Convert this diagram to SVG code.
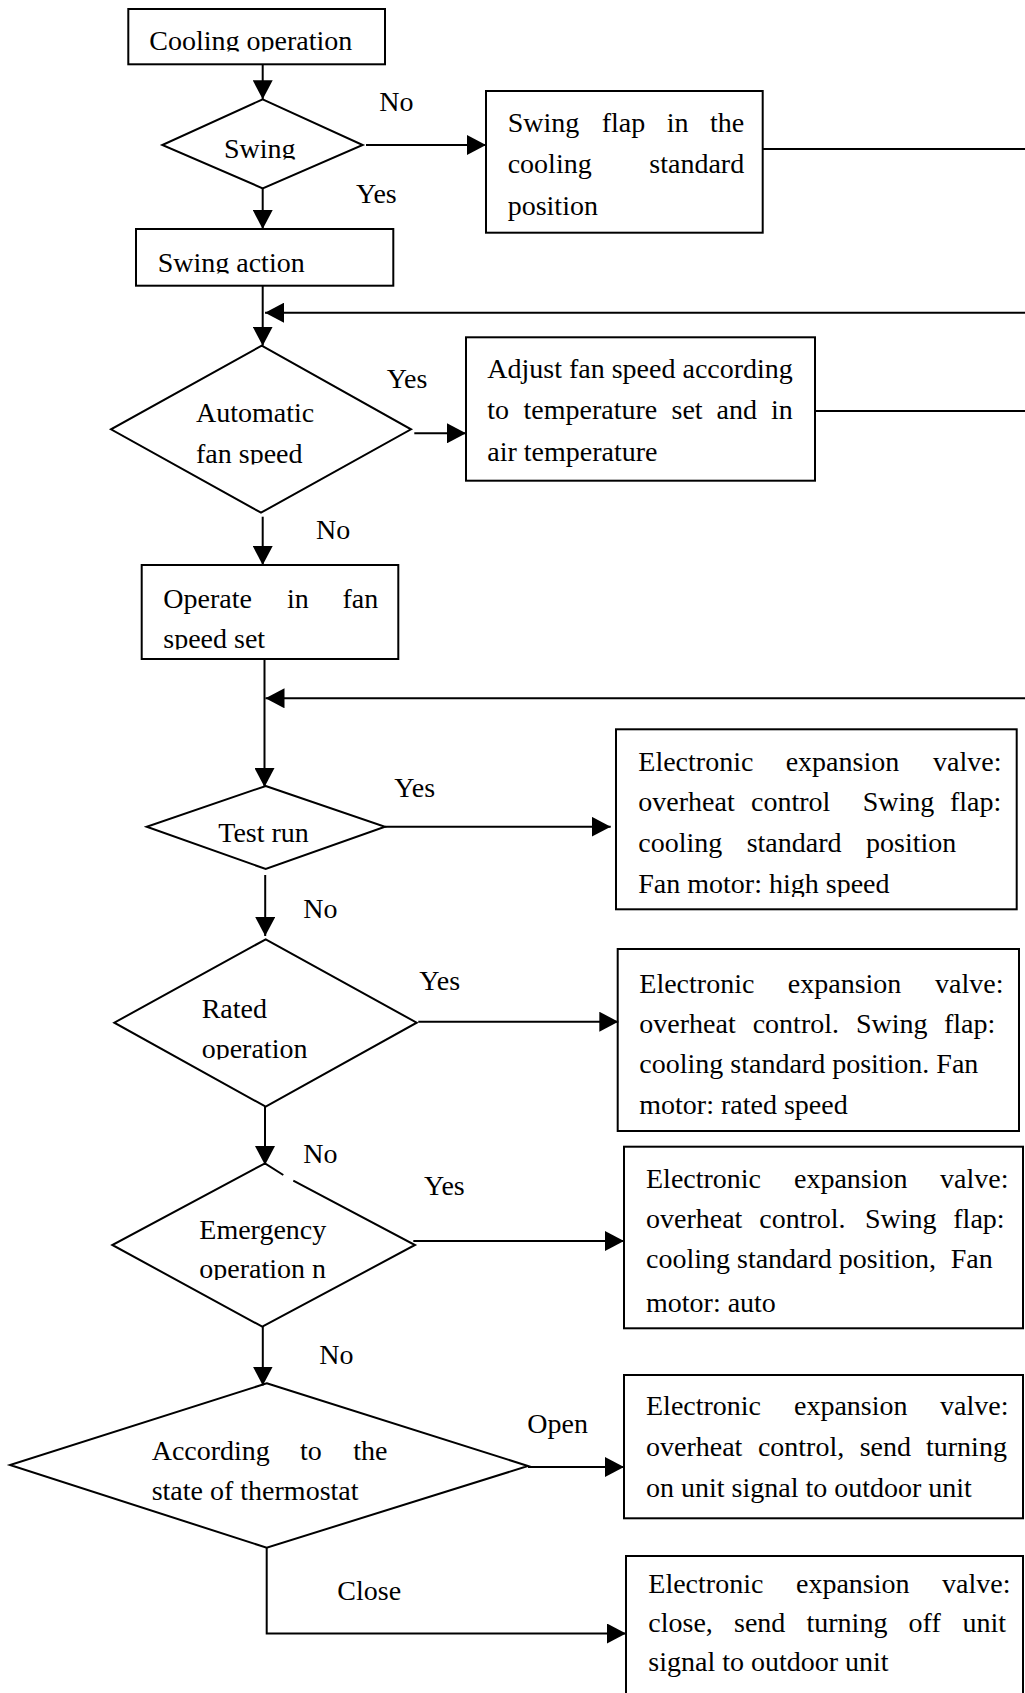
<svg xmlns="http://www.w3.org/2000/svg" width="1025" height="1693" viewBox="0 0 1025 1693">
<style>
.box{fill:#fff;stroke:#000;stroke-width:2}
.ln{fill:none;stroke:#000;stroke-width:2}
.arr{fill:none;stroke:#000;stroke-width:2;marker-end:url(#ah)}
text{font-family:"Liberation Serif","Times New Roman",serif;font-size:28px;fill:#000}
</style>
<defs>
<marker id="ah" markerUnits="userSpaceOnUse" markerWidth="20" markerHeight="20" refX="19" refY="10" orient="auto">
<path d="M0,0 L19,10 L0,20 Z" fill="#000"/>
</marker>
<clipPath id="c-cool" clipPathUnits="userSpaceOnUse"><rect x="0" y="0" width="1025" height="51.5"/></clipPath>
<clipPath id="c-swing" clipPathUnits="userSpaceOnUse"><rect x="0" y="0" width="1025" height="159.5"/></clipPath>
<clipPath id="c-swact" clipPathUnits="userSpaceOnUse"><rect x="0" y="0" width="1025" height="273.5"/></clipPath>
<clipPath id="c-fanspd" clipPathUnits="userSpaceOnUse"><rect x="0" y="0" width="1025" height="464.5"/></clipPath>
<clipPath id="c-spdset" clipPathUnits="userSpaceOnUse"><rect x="0" y="0" width="1025" height="649.5"/></clipPath>
<clipPath id="c-high" clipPathUnits="userSpaceOnUse"><rect x="0" y="0" width="1025" height="897"/></clipPath>
<clipPath id="c-ratop" clipPathUnits="userSpaceOnUse"><rect x="0" y="0" width="1025" height="1059.5"/></clipPath>
<clipPath id="c-emop" clipPathUnits="userSpaceOnUse"><rect x="0" y="0" width="1025" height="1280"/></clipPath>
</defs>
<rect width="1025" height="1693" fill="#fff"/>

<g id="n-cooling">
<rect class="box" x="128.3" y="9" width="256.7" height="55.3"/>
<text x="149.3" y="50" clip-path="url(#c-cool)">Cooling operation</text>
</g>

<g id="n-swing">
<polygon class="box" points="262.7,99.3 362.7,145 262.7,188.3 162.3,145"/>
<text x="224" y="158" clip-path="url(#c-swing)">Swing</text>
</g>

<g id="n-swingflap">
<rect class="box" x="486" y="91" width="276.7" height="141.7"/>
<text y="131.7"><tspan x="507.7">Swing</tspan><tspan x="601.7">flap</tspan><tspan x="666.7">in</tspan><tspan x="710">the</tspan></text>
<text y="173.3"><tspan x="507.7">cooling</tspan><tspan x="649.3">standard</tspan></text>
<text x="507.7" y="215">position</text>
</g>

<g id="n-swingaction">
<rect class="box" x="136" y="229" width="257.3" height="56.7"/>
<text x="157.7" y="271.7" clip-path="url(#c-swact)">Swing action</text>
</g>

<g id="n-auto">
<polygon class="box" points="261.7,345.7 411,429.3 261,512.7 111,429.3"/>
<text x="196" y="421.7">Automatic</text>
<text x="196" y="462.7" clip-path="url(#c-fanspd)">fan speed</text>
</g>

<g id="n-adjust">
<rect class="box" x="466" y="337.3" width="349" height="143.4"/>
<text x="487.3" y="378.3">Adjust fan speed according</text>
<text y="419"><tspan x="487.3">to</tspan><tspan x="523.5">temperature</tspan><tspan x="671.5">set</tspan><tspan x="716.5">and</tspan><tspan x="771">in</tspan></text>
<text x="487.3" y="460.7">air temperature</text>
</g>

<g id="n-operate">
<rect class="box" x="141.7" y="565" width="256.6" height="94"/>
<text y="607.7"><tspan x="163.3">Operate</tspan><tspan x="287">in</tspan><tspan x="342.5">fan</tspan></text>
<text x="163.3" y="648.3" clip-path="url(#c-spdset)">speed set</text>
</g>

<g id="n-testrun">
<polygon class="box" points="265.7,786 385,826.7 265.7,869 146.7,826.7"/>
<text x="218.3" y="841.7">Test run</text>
</g>

<g id="n-testbox">
<rect class="box" x="616" y="729.3" width="400.7" height="180"/>
<text y="771"><tspan x="638.3">Electronic</tspan><tspan x="785.7">expansion</tspan><tspan x="933">valve:</tspan></text>
<text y="811"><tspan x="638.3">overheat</tspan><tspan x="751">control</tspan><tspan x="862.7">Swing</tspan><tspan x="950">flap:</tspan></text>
<text y="852"><tspan x="638.3">cooling</tspan><tspan x="746.7">standard</tspan><tspan x="866">position</tspan></text>
<text x="638.3" y="893.3" clip-path="url(#c-high)">Fan motor: high speed</text>
</g>

<g id="n-rated">
<polygon class="box" points="265.7,939.3 416.7,1022.7 265.7,1106.7 114.3,1022.7"/>
<text x="201.7" y="1018.3">Rated</text>
<text x="201.7" y="1058.3" clip-path="url(#c-ratop)">operation</text>
</g>

<g id="n-ratedbox">
<rect class="box" x="617.7" y="949" width="401.3" height="182"/>
<text y="993"><tspan x="639.3">Electronic</tspan><tspan x="787.8">expansion</tspan><tspan x="935">valve:</tspan></text>
<text y="1032.5"><tspan x="639.3">overheat</tspan><tspan x="752.7">control.</tspan><tspan x="856">Swing</tspan><tspan x="944">flap:</tspan></text>
<text x="639.3" y="1072.5">cooling standard position. Fan</text>
<text x="639.3" y="1114">motor: rated speed</text>
</g>

<g id="n-emergency">
<path class="box" d="M293.3,1180.7 L415,1245 L262.3,1326.7 L112.3,1245 L265,1163.3 L283.3,1175"/>
<text x="199.3" y="1239.3">Emergency</text>
<text x="199.3" y="1278.3" clip-path="url(#c-emop)">operation n</text>
</g>

<g id="n-emergencybox">
<rect class="box" x="624" y="1146.7" width="399" height="181.6"/>
<text y="1188.3"><tspan x="646">Electronic</tspan><tspan x="794">expansion</tspan><tspan x="940">valve:</tspan></text>
<text y="1228.3"><tspan x="646">overheat</tspan><tspan x="759.3">control.</tspan><tspan x="865">Swing</tspan><tspan x="953.3">flap:</tspan></text>
<text y="1268.3"><tspan x="646">cooling standard position,</tspan><tspan x="950.7">Fan</tspan></text>
<text x="646" y="1311.7">motor: auto</text>
</g>

<g id="n-thermostat">
<polygon class="box" points="266.7,1383.3 528,1466 266.7,1547.7 10,1465"/>
<text y="1460"><tspan x="151.7">According</tspan><tspan x="300">to</tspan><tspan x="353.3">the</tspan></text>
<text x="151.7" y="1500">state of thermostat</text>
</g>

<g id="n-openbox">
<rect class="box" x="624" y="1375" width="399" height="143.3"/>
<text y="1415"><tspan x="646">Electronic</tspan><tspan x="794">expansion</tspan><tspan x="940">valve:</tspan></text>
<text y="1456"><tspan x="646">overheat</tspan><tspan x="757.9">control,</tspan><tspan x="859.7">send</tspan><tspan x="926">turning</tspan></text>
<text x="646" y="1497.3">on unit signal to outdoor unit</text>
</g>

<g id="n-closebox">
<rect class="box" x="626" y="1556" width="397" height="160"/>
<text y="1593.3"><tspan x="648.3">Electronic</tspan><tspan x="796">expansion</tspan><tspan x="942">valve:</tspan></text>
<text y="1631.7"><tspan x="648.3">close,</tspan><tspan x="734">send</tspan><tspan x="806.5">turning</tspan><tspan x="908.6">off</tspan><tspan x="962.4">unit</tspan></text>
<text x="648.3" y="1670.7">signal to outdoor unit</text>
</g>

<g id="connectors">
<line class="arr" x1="262.7" y1="64.3" x2="262.7" y2="99.3"/>
<line class="arr" x1="366" y1="145" x2="486" y2="145"/>
<line class="ln" x1="762.7" y1="149" x2="1025" y2="149"/>
<line class="arr" x1="262.7" y1="188.3" x2="262.7" y2="229"/>
<line class="arr" x1="262.7" y1="285.7" x2="262.7" y2="345.7"/>
<line class="arr" x1="1025" y1="312.7" x2="265" y2="312.7"/>
<line class="arr" x1="414.3" y1="433.3" x2="466" y2="433.3"/>
<line class="ln" x1="815" y1="411" x2="1025" y2="411"/>
<line class="arr" x1="262.7" y1="516.7" x2="262.7" y2="565"/>
<line class="arr" x1="264.5" y1="659" x2="264.5" y2="787"/>
<line class="arr" x1="1025" y1="698.3" x2="265.5" y2="698.3"/>
<line class="arr" x1="385" y1="826.7" x2="610.7" y2="826.7"/>
<line class="arr" x1="265.2" y1="875" x2="265.2" y2="936"/>
<line class="arr" x1="418.3" y1="1021.7" x2="618.3" y2="1021.7"/>
<line class="arr" x1="265" y1="1106.7" x2="265" y2="1165"/>
<line class="arr" x1="413.3" y1="1241" x2="624" y2="1241"/>
<line class="arr" x1="262.8" y1="1326.7" x2="262.8" y2="1385.5"/>
<line class="arr" x1="528" y1="1467" x2="624" y2="1467"/>
<polyline class="arr" points="266.7,1547.7 266.7,1633.5 626,1633.5"/>
<text x="379.3" y="111">No</text>
<text x="356" y="203.3">Yes</text>
<text x="386.7" y="388.3">Yes</text>
<text x="316" y="539.3">No</text>
<text x="394.3" y="796.7">Yes</text>
<text x="303.3" y="918.3">No</text>
<text x="419.3" y="990">Yes</text>
<text x="303.3" y="1163.3">No</text>
<text x="424" y="1195">Yes</text>
<text x="319.3" y="1364">No</text>
<text x="527.3" y="1433.3">Open</text>
<text x="337.3" y="1600">Close</text>
</g>
</svg>
